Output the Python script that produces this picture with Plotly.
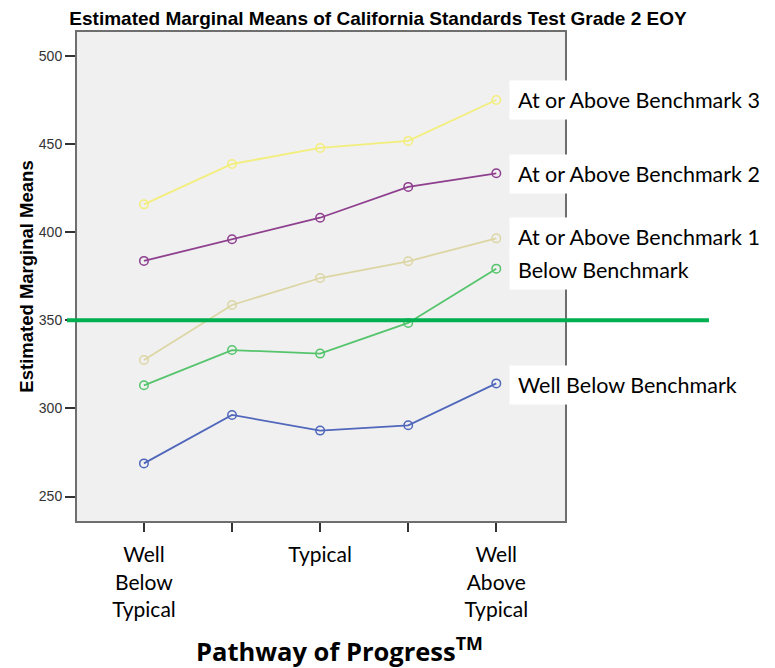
import plotly.graph_objects as go

categories = [0, 1, 2, 3, 4]
tick_text = ["Well<br>Below<br>Typical", "", "Typical", "", "Well<br>Above<br>Typical"]

series_names = ["At or Above Benchmark 3", "At or Above Benchmark 2", "At or Above Benchmark 1",
                "Below Benchmark", "Well Below Benchmark"]
bench3 = [415.8, 438.7, 447.8, 451.8, 475.0]
bench2 = [383.7, 396.0, 408.2, 425.7, 433.4]
bench1 = [327.5, 358.7, 374.0, 383.5, 396.5]
below = [313.1, 333.1, 331.1, 348.5, 379.3]
well_below = [268.8, 296.3, 287.4, 290.4, 314.2]
series_values = [bench3, bench2, bench1, below, well_below]
colors = ["#f3ee7c", "#8e3f8e", "#dcd6a4", "#55c46c", "#5067bb"]
label_y = [475.0, 433.0, 397.5, 378.8, 313.5]
ref_value = 350

# page body has an 8px default margin; figure is sized/offset to compensate
W, H = 767, 660

fig = go.Figure()
for name, vals, c in zip(series_names, series_values, colors):
    fig.add_trace(go.Scatter(
        x=categories, y=vals, mode="lines+markers", name=name,
        line=dict(color=c, width=1.8),
        marker=dict(symbol="circle-open", size=8.5, color=c, line=dict(width=1.5, color=c)),
        showlegend=False,
    ))

fig.add_shape(type="line", xref="paper", yref="y", x0=-0.0205, x1=1.295,
              y0=ref_value, y1=ref_value, line=dict(color="#00b050", width=4), layer="above")

for name, y in zip(series_names, label_y):
    fig.add_annotation(xref="paper", yref="y", x=0.885, y=y, text=name, showarrow=False,
                       xanchor="left", yanchor="middle", align="left", width=270, height=22,
                       bgcolor="white", borderpad=8,
                       font=dict(family="Lato", size=21.5, color="black"))

fig.add_annotation(xref="paper", yref="paper", x=0.537, y=-0.263, text="<b>Pathway of Progress<sup>TM</sup></b>",
                   showarrow=False, xanchor="center", yanchor="middle",
                   font=dict(family="Open Sans", size=25.5, color="black"))

fig.update_layout(
    width=W, height=H,
    margin=dict(l=69, r=210, t=24, b=147, autoexpand=False),
    paper_bgcolor="white", plot_bgcolor="#f0f0f0",
    title=dict(text="<b>Estimated Marginal Means of California Standards Test Grade 2 EOY</b>",
               x=370 / W, xref="container", xanchor="center", y=1 - 10 / H, yref="container",
               yanchor="middle", font=dict(family="Liberation Sans", size=19, color="black")),
    xaxis=dict(range=[-0.76, 4.78], tickvals=categories, ticktext=tick_text, showgrid=False,
               zeroline=False, ticks="outside", ticklen=9, tickwidth=1.5, tickcolor="#333",
               showline=True, mirror=True, linecolor="#6e6e6e", linewidth=2, automargin=False,
               ticklabelstandoff=5,
               tickfont=dict(family="Lato", size=21, color="black")),
    yaxis=dict(range=[236.1, 513.6], tickvals=[250, 300, 350, 400, 450, 500], showgrid=False,
               zeroline=False, ticks="outside", ticklen=10, tickwidth=1.5, tickcolor="#333",
               showline=True, mirror=True, linecolor="#6e6e6e", linewidth=2, automargin=False,
               tickfont=dict(family="Liberation Sans", size=14, color="#333"),
               title=dict(text="<b>Estimated Marginal Means</b>", standoff=0,
                          font=dict(family="Liberation Sans", size=18.5, color="black"))),
)

fig.write_html("out.html")
